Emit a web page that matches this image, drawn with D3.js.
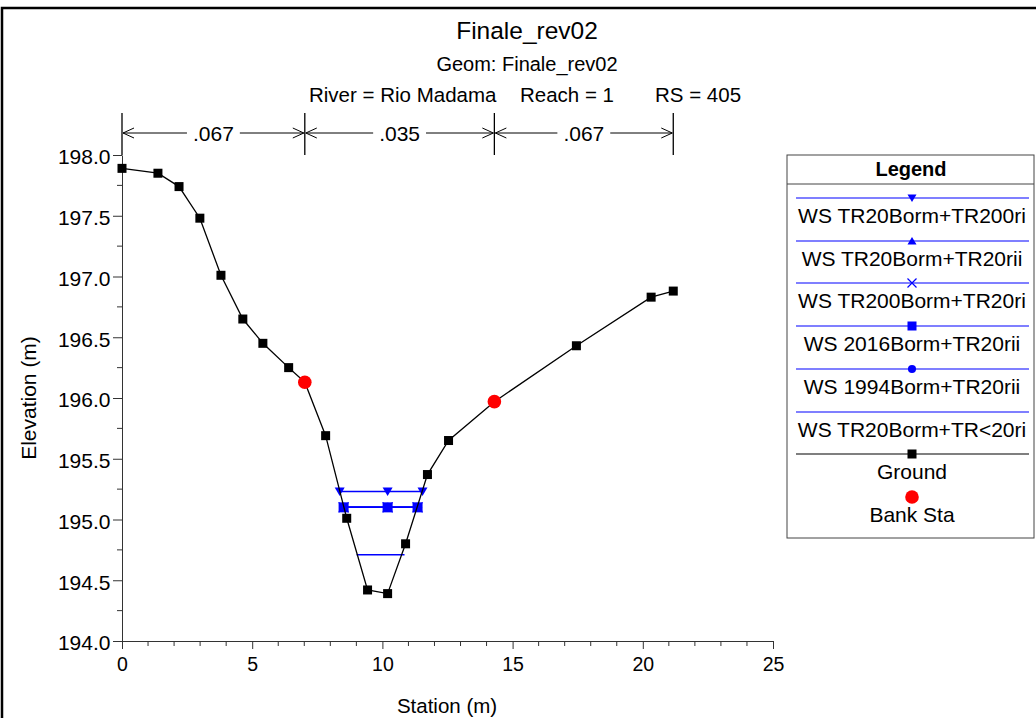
<!DOCTYPE html>
<html><head><meta charset="utf-8">
<script src="https://cdn.jsdelivr.net/npm/d3@7"></script>
<style>body{margin:0;background:#fff} svg{display:block;font-family:"Liberation Sans",Arial,sans-serif}</style>
</head><body>
<svg id="c" width="1036" height="718"></svg>
<script>
// ---- data ----
const titleMain = "Finale_rev02";
const titleGeom = "Geom: Finale_rev02";
const titleInfo = ["River = Rio Madama", "Reach = 1", "RS = 405"];
const groundSta  = [0, 1.38, 2.19, 2.99, 3.80, 4.64, 5.41, 6.40, 7.02, 7.82, 8.63, 9.43, 10.20, 10.89, 11.73, 12.54, 14.30, 17.45, 20.32, 21.17];
const groundElev = [197.89, 197.85, 197.74, 197.48, 197.01, 196.65, 196.45, 196.25, 196.13, 195.69, 195.01, 194.42, 194.39, 194.80, 195.37, 195.65, 195.97, 196.43, 196.83, 196.88];
const bankSta  = [7.02, 14.30];
const bankElev = [196.13, 195.97];
const nSta   = [0, 7.02, 14.30, 21.17];
const nVals  = [".067", ".035", ".067"];
const wsNames  = ["WS TR20Borm+TR200ri", "WS TR20Borm+TR20rii", "WS TR200Borm+TR20ri", "WS 2016Borm+TR20rii", "WS 1994Borm+TR20rii", "WS TR20Borm+TR<20ri"];
const wsElev   = [195.23, 195.10, 195.10, 195.10, 195.10, 194.71];
const wsLeft   = [8.36, 8.51, 8.51, 8.51, 8.51, 9.01];
const wsRight  = [11.54, 11.35, 11.35, 11.35, 11.35, 10.85];
const wsMid    = [10.20, 10.20, 10.20, 10.20, 10.20, null];
const wsSymbol = ["triDown", "triUp", "cross", "square", "circle", null];
const wsDrawOrder = [5, 4, 2, 1, 3, 0];
const xTicks = [0, 5, 10, 15, 20, 25];
const yTicks = [194.0, 194.5, 195.0, 195.5, 196.0, 196.5, 197.0, 197.5, 198.0];

// ---- layout ----
const svg = d3.select("#c");
const x = d3.scaleLinear().domain([0, 25]).range([122, 773]);
const y = d3.scaleLinear().domain([194, 198]).range([641, 155]);
const BLUE = "#0000ff";

// frame
svg.append("rect").attr("x", 2).attr("y", 8).attr("width", 1040).attr("height", 720)
  .attr("fill", "none").attr("stroke", "#000").attr("stroke-width", 2.5);

// titles
svg.append("text").attr("x", 527).attr("y", 39).attr("text-anchor", "middle").attr("font-size", 24.5).text(titleMain);
svg.append("text").attr("x", 527).attr("y", 71).attr("text-anchor", "middle").attr("font-size", 20).text(titleGeom);
const infoX = [309, 520, 655];
titleInfo.forEach((t, i) => svg.append("text").attr("x", infoX[i]).attr("y", 102).attr("font-size", 20.5).text(t));

// axes
const xAxis = d3.axisBottom(x).tickValues(xTicks).tickFormat(d3.format("d")).tickSize(8).tickSizeOuter(0);
const gx = svg.append("g").attr("transform", "translate(0,641)").call(xAxis);
gx.selectAll("text").attr("font-size", 19.5).attr("font-family", "Liberation Sans, Arial").attr("fill", "#000").attr("y", 30).attr("dy", 0);
gx.selectAll("line, path").attr("stroke", "#333");
const xMinor = d3.range(0, 26).filter(v => v % 5 !== 0);
gx.selectAll(".mnr").data(xMinor).enter().append("line").attr("x1", d => x(d)).attr("x2", d => x(d))
  .attr("y1", 0).attr("y2", 5).attr("stroke", "#333");

const yAxis = d3.axisLeft(y).tickValues(yTicks).tickFormat(d3.format(".1f")).tickSize(9).tickSizeOuter(0);
const gy = svg.append("g").attr("transform", "translate(122,0)").call(yAxis);
gy.selectAll("text").attr("font-size", 21).attr("font-family", "Liberation Sans, Arial").attr("fill", "#000").attr("x", -11.5).attr("dy", "0.42em");
gy.selectAll("line, path").attr("stroke", "#333");
const yMinor = d3.range(0, 8).map(i => 194.25 + i * 0.5);
gy.selectAll(".mnr").data(yMinor).enter().append("line").attr("y1", d => y(d)).attr("y2", d => y(d))
  .attr("x1", 0).attr("x2", -5).attr("stroke", "#333");

svg.append("text").attr("transform", "translate(36,398) rotate(-90)").attr("text-anchor", "middle").attr("font-size", 21).text("Elevation (m)");
svg.append("text").attr("x", 447).attr("y", 713).attr("text-anchor", "middle").attr("font-size", 20.5).text("Station (m)");

// Manning's n markers
const nY = 133;
nSta.forEach(s => {
  svg.append("line").attr("x1", x(s)).attr("x2", x(s)).attr("y1", 113).attr("y2", 155).attr("stroke", "#000").attr("stroke-width", 1.3);
});
nVals.forEach((v, i) => {
  const a = x(nSta[i]), b = x(nSta[i + 1]), m = (a + b) / 2;
  const t = svg.append("text").attr("x", m).attr("y", 141).attr("text-anchor", "middle").attr("font-size", 21).text(v);
  const w = t.node().getComputedTextLength() / 2 + 6;
  const g = svg.append("g").attr("stroke", "#000").attr("stroke-width", 1).attr("fill", "none");
  g.append("line").attr("x1", a + 1).attr("x2", m - w).attr("y1", nY).attr("y2", nY);
  g.append("line").attr("x1", m + w).attr("x2", b - 1).attr("y1", nY).attr("y2", nY);
  g.append("path").attr("d", `M${a + 12},${nY - 5} L${a + 1},${nY} L${a + 12},${nY + 5}`);
  g.append("path").attr("d", `M${b - 12},${nY - 5} L${b - 1},${nY} L${b - 12},${nY + 5}`);
});

// symbol helper
function drawSymbol(g, kind, cx, cy, s) {
  const h = s / 2;
  if (kind === "square") g.append("rect").attr("x", cx - h).attr("y", cy - h).attr("width", s).attr("height", s).attr("fill", BLUE);
  else if (kind === "circle") g.append("circle").attr("cx", cx).attr("cy", cy).attr("r", h * 0.9).attr("fill", BLUE);
  else if (kind === "triDown") g.append("path").attr("d", `M${cx - h},${cy - h * 0.8} L${cx + h},${cy - h * 0.8} L${cx},${cy + h * 0.9}Z`).attr("fill", BLUE);
  else if (kind === "triUp") g.append("path").attr("d", `M${cx - h},${cy + h * 0.8} L${cx + h},${cy + h * 0.8} L${cx},${cy - h * 0.9}Z`).attr("fill", BLUE);
  else if (kind === "cross") g.append("path").attr("d", `M${cx - h},${cy - h} L${cx + h},${cy + h} M${cx - h},${cy + h} L${cx + h},${cy - h}`).attr("stroke", BLUE).attr("stroke-width", 1.2);
}

// WS lines
const gws = svg.append("g");
wsDrawOrder.forEach(i => {
  gws.append("line").attr("x1", x(wsLeft[i])).attr("x2", x(wsRight[i])).attr("y1", y(wsElev[i])).attr("y2", y(wsElev[i]))
    .attr("stroke", BLUE).attr("stroke-width", 1.5);
  if (wsSymbol[i]) [wsLeft[i], wsMid[i], wsRight[i]].forEach(s => drawSymbol(gws, wsSymbol[i], x(s), y(wsElev[i]), 10));
});

// ground
const gpts = groundSta.map((s, i) => [s, groundElev[i]]);
svg.append("path").datum(gpts).attr("d", d3.line().x(d => x(d[0])).y(d => y(d[1])))
  .attr("fill", "none").attr("stroke", "#000").attr("stroke-width", 1.3);
svg.selectAll(".gp").data(gpts).enter().append("rect")
  .attr("x", d => x(d[0]) - 4.5).attr("y", d => y(d[1]) - 4.5).attr("width", 9).attr("height", 9).attr("fill", "#000");
svg.selectAll(".bk").data(bankSta).enter().append("circle")
  .attr("cx", d => x(d)).attr("cy", (d, i) => y(bankElev[i])).attr("r", 6.8).attr("fill", "#ff0000");

// legend
const L = svg.append("g");
L.append("rect").attr("x", 787).attr("y", 155).attr("width", 247).attr("height", 383).attr("fill", "#fff").attr("stroke", "#444").attr("stroke-width", 1);
L.append("line").attr("x1", 787).attr("x2", 1034).attr("y1", 184).attr("y2", 184).attr("stroke", "#444");
L.append("text").attr("x", 911).attr("y", 176).attr("text-anchor", "middle").attr("font-size", 20).attr("font-weight", "bold").text("Legend");
const lx1 = 796, lx2 = 1029, lmx = 912;
wsNames.forEach((n, i) => {
  const ly = Math.round(198 + i * 42.7);
  L.append("line").attr("x1", lx1).attr("x2", lx2).attr("y1", ly).attr("y2", ly).attr("stroke", BLUE).attr("stroke-width", 1.2);
  if (wsSymbol[i]) drawSymbol(L, wsSymbol[i], lmx, ly, 9);
  L.append("text").attr("x", lmx).attr("y", ly + 24.6).attr("text-anchor", "middle").attr("font-size", 21).text(n);
});
const gy0 = Math.round(198 + 6 * 42.7);
L.append("line").attr("x1", lx1).attr("x2", lx2).attr("y1", gy0).attr("y2", gy0).attr("stroke", "#000").attr("stroke-width", 1.2);
L.append("rect").attr("x", lmx - 4.5).attr("y", gy0 - 4.5).attr("width", 9).attr("height", 9).attr("fill", "#000");
L.append("text").attr("x", lmx).attr("y", gy0 + 24.6).attr("text-anchor", "middle").attr("font-size", 21).text("Ground");
L.append("circle").attr("cx", lmx).attr("cy", 497).attr("r", 6.8).attr("fill", "#ff0000");
L.append("text").attr("x", lmx).attr("y", 522).attr("text-anchor", "middle").attr("font-size", 21).text("Bank Sta");
</script>
</body></html>
